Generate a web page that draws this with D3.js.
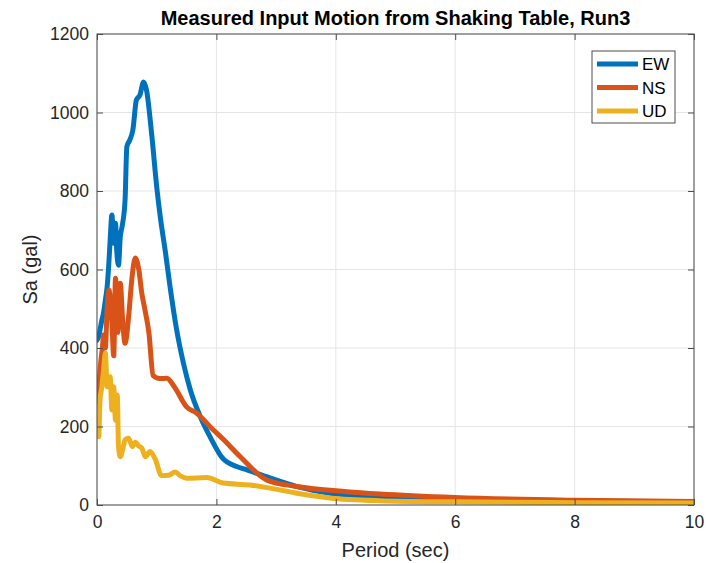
<!DOCTYPE html>
<html>
<head>
<meta charset="utf-8">
<script src="https://cdn.jsdelivr.net/npm/d3@7"></script>
<style>
  html, body { margin: 0; padding: 0; background: #fff; }
  svg { display: block; font-family: "Liberation Sans", Arial, sans-serif; }
</style>
</head>
<body>
<svg id="chart" width="706" height="563"></svg>
<script>
const title = "Measured Input Motion from Shaking Table, Run3";
const xLabel = "Period (sec)";
const yLabel = "Sa (gal)";
const xTicks = [0, 2, 4, 6, 8, 10];
const yTicks = [0, 200, 400, 600, 800, 1000, 1200];
const seriesNames = ["EW", "NS", "UD"];
const seriesColors = ["#0072BD", "#D95319", "#EDB120"];

const ewPeriod = [0.0, 0.03, 0.06, 0.08, 0.11, 0.14, 0.17, 0.2, 0.22, 0.25, 0.28, 0.31, 0.33, 0.36, 0.39, 0.42, 0.47, 0.5, 0.55, 0.6, 0.66, 0.72, 0.78, 0.83, 0.92, 1.0, 1.06, 1.15, 1.22, 1.33, 1.45, 1.56, 1.73, 1.89, 2.1, 2.34, 2.5, 2.84, 3.35, 3.9, 4.74, 6.0, 8.0, 10.0];
const ewSa =     [420, 430, 454, 470, 490, 522, 556, 620, 675, 739, 667, 718, 650, 611, 684, 709, 777, 913, 930, 955, 1032, 1045, 1078, 1057, 938, 811, 734, 640, 560, 450, 360, 295, 225, 175, 120, 98, 90, 72, 47, 30, 21, 15, 10, 8];

const nsPeriod = [0.0, 0.03, 0.06, 0.09, 0.11, 0.14, 0.17, 0.2, 0.25, 0.28, 0.31, 0.35, 0.39, 0.43, 0.47, 0.53, 0.58, 0.64, 0.7, 0.75, 0.8, 0.87, 0.94, 1.05, 1.17, 1.3, 1.5, 1.67, 1.95, 2.11, 2.4, 2.84, 3.35, 4.18, 4.74, 6.0, 8.0, 10.0];
const nsSa =     [245, 300, 360, 400, 433, 400, 500, 548, 463, 380, 578, 440, 565, 470, 412, 480, 570, 629, 600, 540, 500, 438, 330, 322, 323, 300, 250, 234, 191, 168, 123, 64, 47, 34, 28, 19, 12, 9];

const udPeriod = [0.0, 0.03, 0.05, 0.08, 0.11, 0.14, 0.17, 0.22, 0.25, 0.28, 0.31, 0.34, 0.36, 0.39, 0.44, 0.47, 0.53, 0.59, 0.64, 0.7, 0.75, 0.81, 0.89, 0.98, 1.08, 1.2, 1.31, 1.4, 1.5, 1.84, 2.11, 2.56, 2.9, 3.35, 3.9, 4.74, 6.0, 8.0, 10.0];
const udSa =     [250, 174, 267, 300, 344, 387, 301, 327, 242, 301, 216, 280, 149, 123, 148, 166, 170, 149, 160, 150, 145, 123, 136, 115, 75, 76, 84, 74, 68, 70, 56, 51, 43, 30, 18, 11, 8, 6, 5];

const seriesX = [ewPeriod, nsPeriod, udPeriod];
const seriesY = [ewSa, nsSa, udSa];

const svg = d3.select("#chart");
const m = { left: 97, right: 694, top: 34, bottom: 505 };

const x = d3.scaleLinear().domain([0, 10]).range([m.left, m.right]);
const y = d3.scaleLinear().domain([0, 1200]).range([m.bottom, m.top]);

const axisColor = "#4d4d4d";
const textColor = "#262626";

// grid
const grid = svg.append("g");
grid.selectAll(".gx").data(xTicks).join("line")
  .attr("x1", d => x(d)).attr("x2", d => x(d))
  .attr("y1", m.top).attr("y2", m.bottom)
  .attr("stroke", "#e5e5e5").attr("stroke-width", 1);
grid.selectAll(".gy").data(yTicks).join("line")
  .attr("x1", m.left).attr("x2", m.right)
  .attr("y1", d => y(d)).attr("y2", d => y(d))
  .attr("stroke", "#e5e5e5").attr("stroke-width", 1);

// lines
const line = d3.line().x(d => x(d[0])).y(d => y(d[1])).curve(d3.curveMonotoneX);
svg.append("clipPath").attr("id", "clip").append("rect")
  .attr("x", m.left).attr("y", m.top).attr("width", m.right - m.left).attr("height", m.bottom - m.top);
const lines = svg.append("g").attr("clip-path", "url(#clip)");
seriesNames.forEach((name, i) => {
  const pts = seriesX[i].map((v, j) => [v, seriesY[i][j]]);
  lines.append("path").datum(pts)
    .attr("d", line)
    .attr("fill", "none")
    .attr("stroke", seriesColors[i])
    .attr("stroke-width", 5)
    .attr("stroke-linejoin", "round")
    .attr("stroke-linecap", "round");
});

// axes
const tickLen = 6;
const xAxisB = d3.axisBottom(x).tickValues(xTicks).tickSize(-tickLen).tickPadding(11).tickFormat(d3.format("d"));
const xAxisT = d3.axisTop(x).tickValues(xTicks).tickSize(-tickLen).tickFormat("");
const yAxisL = d3.axisLeft(y).tickValues(yTicks).tickSize(-tickLen).tickPadding(8).tickFormat(d3.format("d"));
const yAxisR = d3.axisRight(y).tickValues(yTicks).tickSize(-tickLen).tickFormat("");

function style(g) {
  g.select(".domain").remove();
  g.selectAll(".tick line").attr("stroke", axisColor);
  g.selectAll(".tick text").attr("fill", textColor).style("font-size", "17.5px").style("font-family", "'Liberation Sans', Arial, sans-serif");
}
svg.append("g").attr("transform", `translate(0,${m.bottom})`).call(xAxisB).call(style);
svg.append("g").attr("transform", `translate(0,${m.top})`).call(xAxisT).call(style);
svg.append("g").attr("transform", `translate(${m.left},0)`).call(yAxisL).call(style);
svg.append("g").attr("transform", `translate(${m.right},0)`).call(yAxisR).call(style);

svg.append("rect")
  .attr("x", m.left).attr("y", m.top).attr("width", m.right - m.left).attr("height", m.bottom - m.top)
  .attr("fill", "none").attr("stroke", axisColor).attr("stroke-width", 1);

// title & labels
svg.append("text").attr("x", (m.left + m.right) / 2).attr("y", 25)
  .attr("text-anchor", "middle").attr("font-weight", "bold").attr("font-size", 20).attr("fill", "#000")
  .text(title);
svg.append("text").attr("x", (m.left + m.right) / 2).attr("y", 557)
  .attr("text-anchor", "middle").attr("font-size", 20).attr("fill", textColor)
  .text(xLabel);
svg.append("text").attr("transform", `translate(37,${(m.top + m.bottom) / 2}) rotate(-90)`)
  .attr("text-anchor", "middle").attr("font-size", 20).attr("fill", textColor)
  .text(yLabel);

// legend
const lg = svg.append("g").attr("transform", "translate(592,51)");
lg.append("rect").attr("width", 83).attr("height", 72).attr("fill", "#fff").attr("stroke", axisColor).attr("stroke-width", 1);
seriesNames.forEach((name, i) => {
  const yy = 13 + i * 23.5;
  lg.append("line").attr("x1", 5).attr("x2", 46).attr("y1", yy).attr("y2", yy)
    .attr("stroke", seriesColors[i]).attr("stroke-width", 5);
  lg.append("text").attr("x", 50).attr("y", yy + 6).attr("font-size", 17).attr("fill", "#000").text(name);
});
</script>
</body>
</html>
